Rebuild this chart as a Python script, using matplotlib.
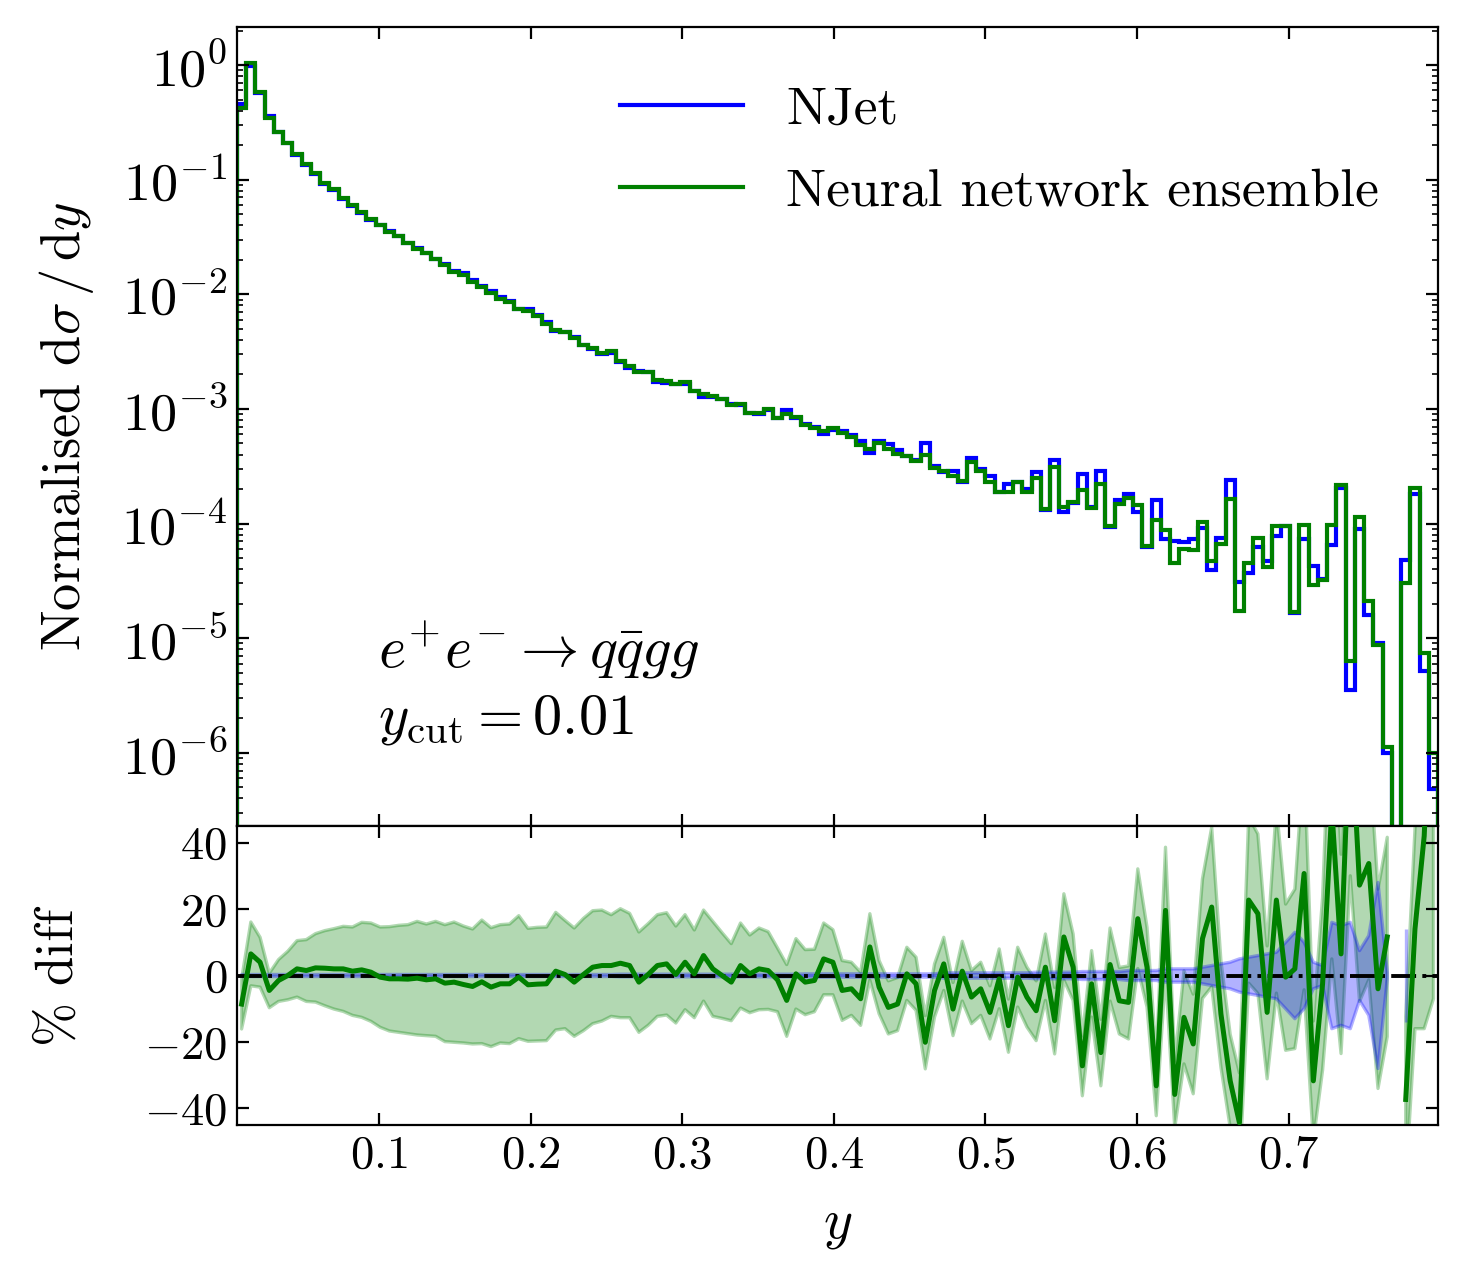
import numpy as np
import matplotlib

matplotlib.use("Agg")
import matplotlib.pyplot as plt

# histogram binning in y (uniform bins)
bin_lo, bin_hi, n_bins = 0.0063, 0.7985, 130

# NJet normalised distribution, one value per bin
njet = [
    0.46, 0.98, 0.565, 0.36, 0.262, 0.207, 0.164, 0.134, 0.111, 0.092,
    0.081, 0.068, 0.059, 0.051, 0.0445, 0.0402, 0.0354, 0.0323, 0.0283, 0.0252,
    0.0230, 0.0205, 0.0184, 0.0161, 0.0152, 0.0133, 0.0119, 0.0106, 0.0094, 0.0088,
    0.0075, 0.0074, 0.0066, 0.0057, 0.0048, 0.0047, 0.0042, 0.0036, 0.0033, 0.0030,
    0.0031, 0.00255, 0.00229, 0.00213, 0.00209, 0.00172, 0.00169, 0.00166, 0.00164, 0.00144,
    0.00128, 0.00126, 0.00121, 0.00110, 0.00108, 0.00092, 0.00090, 0.00098, 0.00084, 0.00098,
    0.00084, 0.00074, 0.00069, 0.00061, 0.00065, 0.00064, 0.00059, 0.00052, 0.00041, 0.00052,
    0.00049, 0.00044, 0.00039, 0.00036, 0.00050, 0.00032, 0.00028, 0.00029, 0.00023, 0.00037,
    0.00030, 0.00026, 0.00019, 0.00022, 0.00023, 0.00020, 0.00028, 0.00013, 0.00036, 0.000125,
    0.00015, 0.00027, 0.00014, 0.00029, 0.000093, 0.00016, 0.00018, 0.000125, 0.000062, 0.00016,
    0.000073, 0.000070, 0.000069, 0.000074, 0.000092, 0.000039, 0.000075, 0.00024, 0.000031, 0.000037,
    0.000063, 0.000047, 0.000078, 0.000095, 0.0000165, 0.000074, 0.000043, 0.000033, 0.000065, 0.000205,
    0.0000035, 0.000089, 0.0000158, 0.0000090, 0.0000010, 0.0, 0.000048, 0.00018, 0.0000052, 0.00000048,
]

# % difference of the network ensemble w.r.t. NJet, per bin
diff_pct = [
    -8.6, 6.5, 4.0, -4.5, -1.5, 0.0, 2.0, 1.5, 2.3, 2.2,
    2.0, 2.0, 1.3, 1.7, 1.0, -0.5, -1.0, -1.0, -1.1, -0.8,
    -1.3, -1.0, -2.3, -2.0, -2.7, -3.3, -1.9, -3.5, -2.5, -2.5,
    -0.5, -2.8, -2.6, -2.5, 1.3, 0.3, -2.0, 0.3, 2.5, 3.0,
    3.0, 3.7, 3.0, -2.0, 0.3, 3.0, 3.5, 0.3, 4.0, 0.5,
    6.0, 2.0, 0.0, -2.0, 3.0, 0.5, 2.0, 1.5, -1.3, -7.5,
    0.5, -2.0, -1.5, 5.0, 4.0, -4.5, -4.0, -7.0, 8.6, -3.5,
    -9.6, -8.6, 0.5, -2.5, -20.1, -4.5, 3.5, -10.1, 1.3, -6.5,
    -4.0, -11.1, -1.0, -15.1, -0.5, -6.5, -10.6, 2.5, -13.6, 11.6,
    2.5, -27.2, -2.5, -23.2, 3.3, -7.6, -8.1, 17.1, 2.5, -33.2,
    19.6, -35.8, -12.6, -20.6, 11.1, 20.6, -11.6, -31.7, -44.3, 22.7,
    18.6, -11.1, 22.7, -0.5, 2.0, 30.7, -31.7, -2.5, 50.0, 6.5,
    80.0, 27.2, 33.7, -4.0, 11.6, np.nan, -37.3, 14.0, 42.0, 108.0,
]

# ensemble uncertainty (half width, %)
nn_err_pct = [
    7.5, 9.6, 7.5, 5.2, 6.3, 7.3, 8.5, 9.3, 10.3, 11.3,
    12.1, 12.8, 13.3, 14.3, 14.8, 15.1, 15.7, 16.1, 16.4, 17.1,
    16.8, 17.3, 17.6, 18.1, 17.6, 17.3, 18.6, 17.9, 17.8, 18.0,
    18.5, 17.0, 17.1, 17.1, 17.7, 16.3, 16.3, 16.9, 17.0, 16.7,
    15.3, 16.4, 15.7, 15.1, 15.3, 15.3, 15.4, 14.6, 14.3, 13.2,
    13.7, 14.3, 12.9, 11.6, 12.8, 11.7, 12.3, 11.7, 9.6, 10.8,
    10.6, 9.8, 9.4, 10.8, 9.8, 9.0, 8.0, 8.0, 10.0, 8.0,
    8.0, 8.0, 8.0, 8.0, 8.0, 8.0, 8.0, 8.0, 9.0, 8.0,
    8.0, 8.0, 9.0, 8.0, 9.0, 9.0, 9.0, 10.0, 10.0, 13.0,
    10.0, 9.0, 10.0, 10.0, 11.0, 10.0, 11.0, 15.0, 12.0, 9.0,
    19.0, 10.0, 14.0, 15.0, 18.0, 24.0, 16.0, 14.0, 15.0, 25.0,
    24.0, 20.0, 28.0, 22.0, 24.0, 35.0, 18.0, 26.0, 45.0, 30.0,
    50.0, 35.0, 35.0, 30.0, 30.0, np.nan, 25.0, 30.0, 58.0, 115.0,
]

# NJet statistical uncertainty (half width, %)
njet_err_pct = [
    0.3, 0.3, 0.3, 0.3, 0.3, 0.3, 0.3, 0.3, 0.3, 0.3,
    0.3, 0.3, 0.3, 0.3, 0.3, 0.3, 0.3, 0.3, 0.3, 0.3,
    0.3, 0.3, 0.3, 0.3, 0.3, 0.3, 0.3, 0.3, 0.3, 0.3,
    0.3, 0.3, 0.3, 0.3, 0.3, 0.3, 0.3, 0.3, 0.3, 0.3,
    0.3, 0.4, 0.4, 0.4, 0.4, 0.4, 0.4, 0.4, 0.4, 0.4,
    0.4, 0.4, 0.4, 0.4, 0.4, 0.4, 0.4, 0.4, 0.4, 0.4,
    0.4, 0.5, 0.5, 0.5, 0.5, 0.5, 0.5, 0.5, 0.5, 0.5,
    0.5, 0.5, 0.5, 0.5, 0.5, 0.5, 0.8, 0.8, 0.8, 0.8,
    0.8, 0.8, 0.8, 0.8, 0.8, 0.8, 1.0, 1.0, 1.0, 1.0,
    1.0, 1.2, 1.2, 1.2, 1.2, 1.2, 1.5, 1.5, 1.5, 1.5,
    2.0, 2.0, 2.0, 2.0, 2.5, 3.0, 3.5, 4.0, 5.0, 5.5,
    6.0, 6.5, 7.0, 10.0, 13.0, 10.0, 4.0, 3.0, 16.0, 15.0,
    16.0, 7.5, 12.0, 28.0, 1.0, np.nan, 14.0, np.nan, np.nan, np.nan,
]

plt.rcParams.update({
    "font.family": "serif",
    "font.serif": ["cmr10"],
    "mathtext.fontset": "cm",
    "axes.formatter.use_mathtext": True,
    "axes.unicode_minus": True,
    "xtick.direction": "in",
    "ytick.direction": "in",
    "xtick.top": True,
    "ytick.right": True,
    "xtick.labelsize": 16.8,
    "ytick.labelsize": 16.8,
    "xtick.major.size": 4.3,
    "ytick.major.size": 4.3,
    "xtick.minor.size": 2.2,
    "ytick.minor.size": 2.2,
})

edges = np.linspace(bin_lo, bin_hi, n_bins + 1)
centres = 0.5 * (edges[1:] + edges[:-1])
njet = np.array(njet)
diff = np.array(diff_pct, dtype=float)
nn_err = np.array(nn_err_pct, dtype=float)
njet_err = np.array(njet_err_pct, dtype=float)
nn = njet * (1.0 + np.nan_to_num(diff) / 100.0)

fig = plt.figure(figsize=(7.305, 6.385), dpi=200)
ax1 = fig.add_axes([0.1622, 0.3532, 0.8221, 0.6257])
ax2 = fig.add_axes([0.1622, 0.1190, 0.8221, 0.2342], sharex=ax1)

ax1.stairs(njet, edges, color="blue", lw=1.5, label="NJet")
ax1.stairs(nn, edges, color="green", lw=1.5, label="Neural network ensemble")
ax1.set_yscale("log")
ax1.set_ylim(2.3e-7, 2.15)
ax1.set_xlim(edges[0], edges[-1])
ax1.tick_params(axis="y", which="major", labelsize=19.5)
ax1.set_ylabel(r"Normalised $\mathrm{d}\sigma\,/\,\mathrm{d}y$", fontsize=19.6, labelpad=9)
ax1.tick_params(axis="x", labelbottom=False)
ax1.legend(loc="upper right", frameon=False, fontsize=19.3,
           handlelength=2.3, labelspacing=0.64, borderaxespad=0.7)
ax1.text(0.117, 0.22, r"$e^{+}e^{-}\to q\bar{q}gg$", transform=ax1.transAxes,
         fontsize=21, va="center")
ax1.text(0.117, 0.132, r"$y_{\rm cut}=0.01$", transform=ax1.transAxes,
         fontsize=21, va="center")

ax2.fill_between(centres, diff - nn_err, diff + nn_err, color="green", alpha=0.3, lw=1.2)
ax2.fill_between(centres, -njet_err, njet_err, color="blue", alpha=0.3, lw=1.2)
ax2.axhline(0.0, color="black", ls="-.", lw=1.4, zorder=3)
ax2.plot(centres, diff, color="green", lw=1.8, zorder=4)
ax2.set_ylim(-45, 45)
ax2.set_yticks([-40, -20, 0, 20, 40])
ax2.set_xticks([0.1, 0.2, 0.3, 0.4, 0.5, 0.6, 0.7])
ax2.set_ylabel(r"$\%$ diff", fontsize=19, labelpad=22)
ax2.set_xlabel(r"$y$", fontsize=20, labelpad=9)

fig.savefig("out.png", dpi=200)
